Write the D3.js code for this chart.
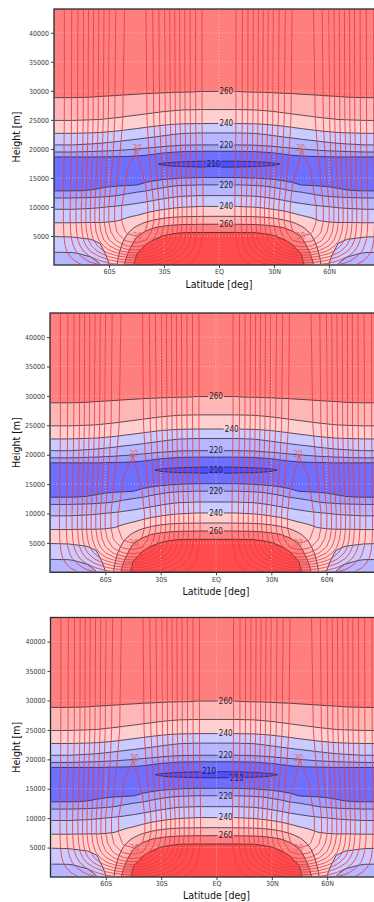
<!DOCTYPE html>
<html>
<head>
<meta charset="utf-8">
<script src="https://cdn.jsdelivr.net/npm/d3@7"></script>
<style>
  body { margin: 0; background: #fff; }
  svg { display: block; }
  text { font-family: "DejaVu Sans Condensed", "DejaVu Sans", sans-serif; }
</style>
</head>
<body>
<svg id="chart" width="374" height="902"></svg>
<script>
// ---- data (northern half, mirrored to the south) ----
// temperature [K]
const tLats = [0, 10, 20, 25, 30, 35, 40, 45, 50, 55, 60, 65, 70, 80, 90];
const tHeights = [0, 1000, 2000, 3000, 4000, 5000, 5600, 6400, 7200, 8400, 10000, 11900, 12800, 13800,
  15000, 16200, 17400, 18600, 19600, 20700, 22700, 24400, 26800, 29800, 34000, 44100];
const tempRows = [
  [298, 297, 294, 291, 287, 282.5, 278, 272.5, 264, 251.5, 239.5, 229.7, 228, 226.5, 226],
  [293, 292.5, 289.7, 287.1, 283.7, 279.8, 275.8, 271.2, 261.8, 250.3, 241.7, 231.3, 229.2, 228, 227.7],
  [288, 287.7, 285.4, 283.3, 280.4, 277.1, 273.7, 269.7, 259.4, 248.8, 243.9, 234.7, 231.2, 229.5, 229.4],
  [283, 282.8, 281.1, 279.4, 277.1, 274.3, 271.5, 266.2, 256.6, 247.3, 246, 238, 235, 232.8, 232.5],
  [278, 277.9, 276.8, 275.6, 273.8, 271.6, 268.6, 262.8, 253.7, 245.8, 244.7, 240.7, 238.8, 236.8, 236.4],
  [273, 272.9, 272.5, 271.7, 270.5, 267.8, 264.1, 258.9, 250.9, 244.4, 243.4, 242.5, 241.6, 240.7, 240.4],
  [270.05, 270.02, 269.9, 269, 267.2, 264.6, 261.4, 255.8, 249, 243.5, 242.7, 242.6, 243, 242.7, 242.5],
  [264.4, 264.3, 264.1, 263.4, 262.2, 260.3, 256.7, 251.6, 246.2, 242.3, 241.7, 241.5, 242.2, 242.8, 242.8],
  [258.8, 258.7, 258.3, 257.7, 256.5, 254.4, 251.3, 247.2, 243.5, 241.1, 240.6, 240.4, 240.5, 240.3, 240.3],
  [249.9, 249.8, 249.4, 248.7, 247.5, 245.6, 243, 240.6, 239.1, 237.9, 237, 236.3, 235.9, 235.4, 235.4],
  [240.5, 240.5, 239.7, 238.7, 237.3, 235.9, 234.4, 233.2, 232, 231, 230.2, 229.4, 228.9, 228.2, 228.2],
  [230.3, 230.3, 229.7, 228.8, 227.6, 226.2, 224.6, 223.1, 221.7, 220.3, 219.5, 218.9, 218.5, 218.1, 218.1],
  [225.4, 225.4, 224.8, 223.9, 222.6, 221.2, 219.7, 218.7, 217.6, 216.7, 216, 215.4, 215.1, 214.9, 214.9],
  [220.02, 220.02, 219.5, 218.9, 217.9, 216.9, 215.8, 214.9, 214.7, 214.6, 214.5, 214.4, 214.3, 214.3, 214.3],
  [215.2, 215.2, 214.9, 214.5, 214.2, 213.7, 213.6, 213.6, 213.6, 213.6, 213.6, 213.6, 213.5, 213.5, 213.5],
  [211.8, 211.8, 211.9, 211.8, 212, 211.8, 211.9, 212.3, 212.6, 212.9, 213.2, 213.2, 213.3, 213.3, 213.3],
  [208.5, 208.6, 208.9, 209.2, 209.5, 210.3, 212.2, 213.1, 213.5, 213.8, 213.9, 213.9, 214, 214.1, 214.1],
  [212.1, 212.1, 212.3, 212.6, 212.8, 213.5, 214.1, 214.4, 214.6, 214.7, 214.8, 214.9, 214.9, 214.9, 214.9],
  [215.05, 215.05, 215.2, 215.5, 215.9, 216.5, 217.1, 217.7, 218.3, 219, 219.5, 220, 220.3, 220.8, 220.8],
  [220.05, 220.05, 220.3, 220.8, 221.4, 222.3, 223.2, 224.3, 225.4, 226.6, 227.7, 228.6, 229.2, 230.1, 230.1],
  [229.7, 229.7, 230.2, 231.1, 232.3, 233.6, 234.9, 236.1, 237.1, 238.1, 238.8, 239.4, 239.7, 240.1, 240.1],
  [240.2, 240.2, 240.5, 241, 241.7, 242.6, 243.5, 244.4, 245.3, 246.1, 246.8, 247.6, 247.7, 248.1, 248.1],
  [250.1, 250.1, 250.4, 250.9, 251.5, 252.3, 253.1, 253.9, 254.6, 255.4, 255.9, 256.2, 256.7, 257.1, 257.1],
  [259.9, 259.9, 260.1, 260.2, 260.4, 260.6, 260.7, 260.9, 261, 261.1, 261.2, 261.3, 261.4, 261.4, 261.4],
  [264, 264, 264, 264, 264, 264, 264, 264, 264, 264, 264, 264, 264, 264, 264],
  [266, 266, 266, 266, 266, 266, 266, 266, 266, 266, 266, 266, 266, 266, 266]
];

// zonal wind [m/s]
const uLats = [0, 5, 10, 15, 20, 25, 30, 35, 40, 45, 50, 55, 60, 65, 70, 75, 80, 85, 90];
const uHeights = [0, 800, 1600, 2400, 3300, 4300, 5700, 7500, 10000, 14500, 19300, 25000, 44100];
const windRows = [
  [0, 0.2, 0.8, 1.8, 3.0, 4.3, 5.5, 6.5, 7.5, 7.8, 7.6, 7.0, 6.1, 4.9, 3.7, 2.4, 1.4, 0.6, 0],
  [0, 0.3, 1.2, 2.9, 4.8, 6.8, 8.7, 10.4, 11.9, 12.4, 12.1, 11.1, 9.6, 7.7, 5.9, 3.9, 2.2, 0.9, 0],
  [0, 0.5, 1.7, 4.0, 6.6, 9.3, 12.0, 14.3, 16.3, 17.1, 16.6, 15.3, 13.2, 10.6, 8.0, 5.3, 3.1, 1.2, 0],
  [0, 0.6, 2.1, 5.1, 8.3, 11.9, 15.2, 18.2, 20.7, 21.7, 21.2, 19.4, 16.8, 13.5, 10.2, 6.8, 3.9, 1.6, 0],
  [0, 0.7, 2.5, 6.1, 9.9, 14.1, 18.1, 21.5, 24.6, 25.7, 25.1, 23.1, 19.9, 16.0, 12.1, 8.0, 4.6, 1.9, 0],
  [0, 0.8, 2.8, 6.8, 11.1, 15.8, 20.3, 24.2, 27.6, 28.9, 28.2, 25.9, 22.4, 18.0, 13.6, 9.0, 5.2, 2.1, 0],
  [0, 0.9, 3.0, 7.3, 12.0, 17.1, 21.9, 26.1, 29.8, 31.2, 30.5, 28.0, 24.2, 19.4, 14.7, 9.7, 5.6, 2.3, 0],
  [0, 0.9, 3.1, 7.6, 12.4, 17.7, 22.7, 27.1, 30.9, 32.4, 31.6, 29.0, 25.1, 20.2, 15.2, 10.1, 5.8, 2.4, 0],
  [0, 0.9, 3.1, 7.6, 12.4, 17.7, 22.7, 27.1, 30.9, 32.4, 31.6, 29.0, 25.1, 20.2, 15.2, 10.1, 5.8, 2.4, 0],
  [0, 0.9, 3.0, 7.3, 12.0, 17.0, 21.9, 26.1, 29.8, 31.2, 30.4, 27.9, 24.2, 19.4, 14.7, 9.7, 5.6, 2.3, 0],
  [0, 0.8, 2.9, 7.1, 11.6, 16.5, 21.2, 25.2, 28.8, 30.1, 29.4, 27.0, 23.3, 18.8, 14.2, 9.4, 5.4, 2.2, 0],
  [0, 0.8, 2.8, 6.9, 11.3, 16.1, 20.6, 24.6, 28.0, 29.4, 28.7, 26.3, 22.8, 18.3, 13.8, 9.1, 5.3, 2.1, 0],
  [0, 0.8, 2.8, 6.8, 11.1, 15.8, 20.3, 24.2, 27.6, 28.9, 28.2, 25.9, 22.4, 18.0, 13.6, 9.0, 5.2, 2.1, 0]
];

const tLevels = [210, 215, 220, 230, 240, 250, 260, 270];
const tColors = ["#4f4fff", "#6e6eff", "#a0a0ff", "#b7b7ff", "#cbcbff", "#ffcfcf", "#ffb6b6", "#ff7f7f", "#ff4d4d"];
const tLabelLevels = [210, 220, 240, 260];
const uLevels = [2.5, 5, 7.5, 10, 12.5, 15, 17.5, 20, 22.5, 25, 27.5, 30];
const uLabelLevels = [30, 15];

const xTicks = [-60, -30, 0, 30, 60];
const xTickLabels = ["60S", "30S", "EQ", "30N", "60N"];
const yTicks = [5000, 10000, 15000, 20000, 25000, 30000, 35000, 40000];

// ---- layout ----
const panels = [
  { x0: 54, x1: 384, y0: 9, y1: 265, titleY: 288, lat: 4, at: { 210: [-3] } },
  { x0: 50, x1: 382, y0: 313, y1: 572.3, titleY: 595, lat: 0, at: { 240: [0, 8.5] } },
  { x0: 50.5, x1: 382.5, y0: 617.5, y1: 877, titleY: 899, lat: 5, split: [210], at: { 210: [11, -4] } }
];
const windLabelLat = { 30: 44.5, 15: 48 };
const zTop = 44100;

const svg = d3.select("#chart");
const defs = svg.append("defs");

function makeField(halfLats, heights, rows) {
  const lats = halfLats.slice(1).map(d => -d).reverse().concat(halfLats);
  const values = rows.flatMap(r => r.slice(1).reverse().concat(r));
  return { lats, heights, values, n: lats.length, m: heights.length };
}
const tField = makeField(tLats, tHeights, tempRows);
const uField = makeField(uLats, uHeights, windRows);

function pathFor(f, x, y) {
  const li = d3.scaleLinear().domain(d3.range(f.n)).range(f.lats).clamp(true);
  const hi = d3.scaleLinear().domain(d3.range(f.m)).range(f.heights).clamp(true);
  return d3.geoPath(d3.geoTransform({
    point(px, py) { this.stream.point(x(li(px - 0.5)), y(hi(py - 0.5))); }
  }));
}

// heights where one grid column crosses a level
function colCrossings(rows, heights, col, level) {
  const out = [];
  for (let j = 0; j < heights.length - 1; j++) {
    const a = rows[j][col], b = rows[j + 1][col];
    if ((a < level) !== (b < level)) out.push(heights[j] + (level - a) / (b - a) * (heights[j + 1] - heights[j]));
  }
  return out;
}
// same at the equator, merging the two sides of a thin closed contour
function crossings(rows, heights, level) {
  const merged = [];
  colCrossings(rows, heights, 0, level).forEach(z => {
    const last = merged[merged.length - 1];
    if (last !== undefined && z - last < 2000) merged[merged.length - 1] = (last + z) / 2;
    else merged.push(z);
  });
  return merged;
}

const tGen = d3.contours().size([tField.n, tField.m]);
const uGen = d3.contours().size([uField.n, uField.m]);

panels.forEach((p, pi) => {
  const x = d3.scaleLinear().domain([-90, 90]).range([p.x0, p.x1]);
  const y = d3.scaleLinear().domain([0, zTop]).range([p.y1, p.y0]);
  const tPath = pathFor(tField, x, y);
  const uPath = pathFor(uField, x, y);

  defs.append("clipPath").attr("id", "clip" + pi)
    .append("rect").attr("x", p.x0).attr("y", p.y0).attr("width", p.x1 - p.x0).attr("height", p.y1 - p.y0);
  defs.append("clipPath").attr("id", "clipIn" + pi)
    .append("rect").attr("x", p.x0 + 1).attr("y", p.y0 + 1).attr("width", p.x1 - p.x0 - 2).attr("height", p.y1 - p.y0 - 2);

  const g = svg.append("g").attr("clip-path", `url(#clip${pi})`);

  // shaded temperature
  g.append("rect").attr("x", p.x0).attr("y", p.y0).attr("width", p.x1 - p.x0).attr("height", p.y1 - p.y0)
    .attr("fill", tColors[0]);
  tLevels.forEach((lv, k) => {
    g.append("path").attr("d", tPath(tGen.contour(tField.values, lv))).attr("fill", tColors[k + 1]);
  });

  // dotted grid
  const grid = g.append("g").attr("stroke", "#e2e2e2").attr("stroke-width", 0.6).attr("stroke-dasharray", "1,2");
  yTicks.forEach(v => grid.append("line").attr("x1", p.x0).attr("x2", p.x1).attr("y1", y(v)).attr("y2", y(v)));
  xTicks.forEach(v => grid.append("line").attr("x1", x(v)).attr("x2", x(v)).attr("y1", p.y0).attr("y2", p.y1));

  // temperature labels near the equator
  const labels = [];
  tLabelLevels.forEach(lv => {
    const split = (p.split || []).includes(lv);
    const zs = split ? colCrossings(tempRows, tHeights, 0, lv) : crossings(tempRows, tHeights, lv);
    zs.forEach((z, i) => {
      const over = p.at[lv];
      const lat = over ? over[Math.min(i, over.length - 1)] : p.lat;
      labels.push({ lv, x: x(lat), y: y(z) });
    });
  });

  const mask = defs.append("mask").attr("id", "mask" + pi).attr("maskUnits", "userSpaceOnUse")
    .attr("x", 0).attr("y", 0).attr("width", 374).attr("height", 902);
  mask.append("rect").attr("width", 374).attr("height", 902).attr("fill", "#fff");
  labels.forEach(l => mask.append("rect").attr("x", l.x - 8).attr("y", l.y - 4).attr("width", 16).attr("height", 8).attr("fill", "#000"));

  const tl = g.append("g").attr("clip-path", `url(#clipIn${pi})`)
    .append("g").attr("mask", `url(#mask${pi})`)
    .attr("fill", "none").attr("stroke", "#23232e").attr("stroke-width", 0.75);
  tLevels.forEach(lv => tl.append("path").attr("d", tPath(tGen.contour(tField.values, lv))));

  g.append("g").selectAll("text").data(labels).join("text")
    .attr("x", d => d.x).attr("y", d => d.y).attr("dy", "0.35em")
    .attr("text-anchor", "middle").attr("font-size", 8).attr("fill", "#222")
    .text(d => d.lv);

  // wind contours
  const ul = g.append("g").attr("clip-path", `url(#clipIn${pi})`)
    .attr("fill", "none").attr("stroke", "#e83c42").attr("stroke-width", 0.85);
  uLevels.forEach(lv => ul.append("path").attr("d", uPath(uGen.contour(uField.values, lv))));

  // wind labels on the jet axis
  const jetCol = uLats.indexOf(45);
  uLabelLevels.forEach(lv => {
    const zs = colCrossings(windRows, uHeights, jetCol, lv);
    (lv === 30 ? zs : zs.slice(0, 1)).forEach(z => {
      [-1, 1].forEach(s => {
        g.append("text").attr("x", x(s * windLabelLat[lv])).attr("y", y(z)).attr("dy", "0.35em")
          .attr("text-anchor", "middle").attr("font-size", 8).attr("fill", "#d86a6a").text(lv);
      });
    });
  });

  // axes
  const ax = svg.append("g").attr("transform", `translate(${p.x0},0)`)
    .call(d3.axisLeft(y).tickValues(yTicks).tickSize(3).tickPadding(2).tickFormat(d3.format("d")));
  const bx = svg.append("g").attr("transform", `translate(0,${p.y1})`)
    .call(d3.axisBottom(x).tickValues(xTicks).tickSize(3).tickPadding(1.5).tickFormat((d, i) => xTickLabels[i]));
  [ax, bx].forEach(a => {
    a.select(".domain").remove();
    a.selectAll("line").attr("stroke", "#444");
    a.selectAll("text").attr("font-size", 7).attr("fill", "#3a3a3a");
  });
  svg.append("rect").attr("x", p.x0).attr("y", p.y0).attr("width", p.x1 - p.x0).attr("height", p.y1 - p.y0)
    .attr("fill", "none").attr("stroke", "#2a2a2a").attr("stroke-width", 1.3);

  svg.append("text").attr("x", x(0)).attr("y", p.titleY)
    .attr("text-anchor", "middle").attr("font-size", 10.5).attr("fill", "#111").text("Latitude [deg]");
  svg.append("text").attr("transform", `translate(20,${(p.y0 + p.y1) / 2}) rotate(-90)`)
    .attr("text-anchor", "middle").attr("font-size", 10.5).attr("fill", "#111").text("Height [m]");
});
</script>
</body>
</html>
